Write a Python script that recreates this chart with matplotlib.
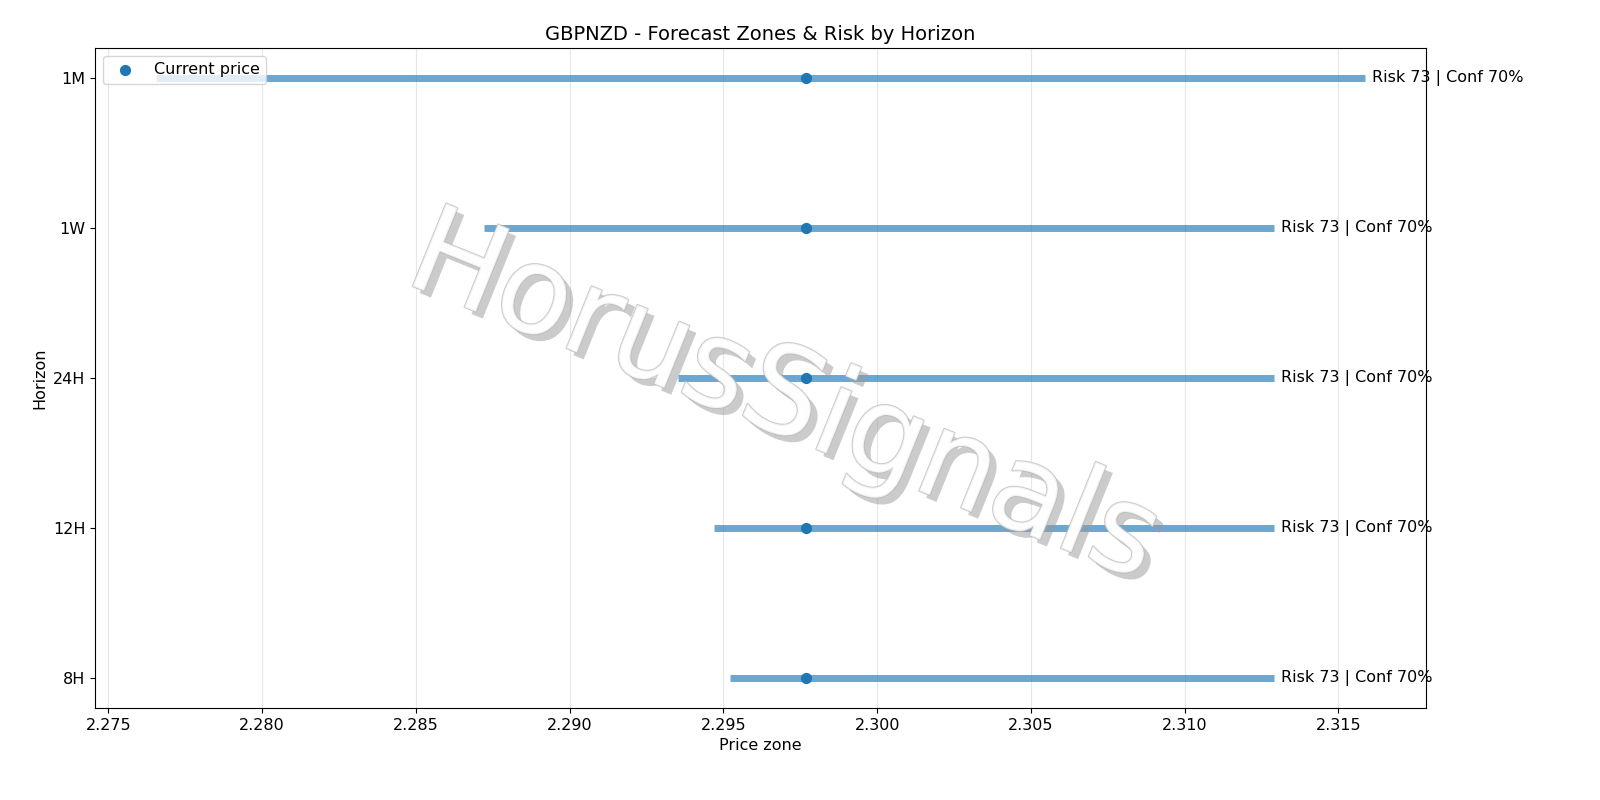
import matplotlib
matplotlib.use("Agg")
import matplotlib.pyplot as plt
import matplotlib.patheffects as pe

horizons = ["8H", "12H", "24H", "1W", "1M"]
low = [2.29521, 2.29469, 2.29352, 2.28722, 2.27653]
high = [2.31292, 2.31292, 2.31292, 2.31292, 2.31588]
current = 2.29769
labels = ["Risk 73 | Conf 70%"] * 5

fig = plt.figure(figsize=(16, 8), dpi=100)
ax = fig.add_axes([95/1600, 1-708/800, (1426-95)/1600, 660/800])
ys = list(range(len(horizons)))
ax.hlines(ys, low, high, linewidth=5, color="#1f77b4", alpha=0.65)
ax.scatter([current]*len(ys), ys, color="#1f77b4", zorder=3, s=50, label="Current price")
for y, h, t in zip(ys, high, labels):
    ax.text(h + 0.0002, y, t, va="center", ha="left", fontsize=11.5)
ax.set_yticks(ys)
ax.set_yticklabels(horizons)
ax.tick_params(labelsize=11.5)
ax.grid(axis="x", alpha=0.3)
ax.set_xlabel("Price zone", fontsize=11.5)
ax.set_ylabel("Horizon", fontsize=11.5)
ax.set_title("GBPNZD - Forecast Zones & Risk by Horizon", fontsize=14)
ax.legend(loc="upper left", fontsize=11.5)
fig.text(0.49, 0.5, "HorusSignals", fontsize=88, color="white", alpha=0.75,
         rotation=-22, ha="center", va="center",
         path_effects=[pe.withSimplePatchShadow(offset=(5, -5), shadow_rgbFace="#999999", alpha=0.5),
                       pe.Stroke(linewidth=1.5, foreground="#bbbbbb"), pe.Normal()])
fig.savefig("out.png")
